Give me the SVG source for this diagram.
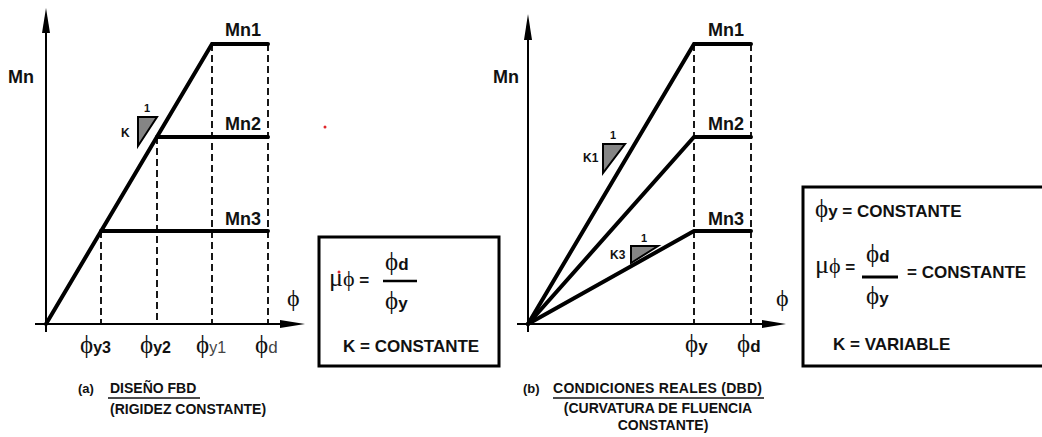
<svg xmlns="http://www.w3.org/2000/svg" width="1042" height="437" viewBox="0 0 1042 437">
<style>
.b{font-family:"Liberation Sans",Arial,sans-serif;font-weight:bold;fill:#111}
.r{font-family:"Liberation Sans",Arial,sans-serif;font-weight:normal;fill:#444}
.sym{font-family:"Liberation Serif","DejaVu Serif",serif;font-weight:normal;fill:#111}
.mn{font-size:18px}
.axis{stroke:#000;stroke-width:2;fill:none}
.thick{stroke:#000;stroke-width:4;fill:none;stroke-linecap:round}
.dash{stroke:#000;stroke-width:1.8;fill:none;stroke-dasharray:7 4}
.tri{fill:#858585;stroke:#000;stroke-width:2}
.box{fill:none;stroke:#000;stroke-width:3}
.head{fill:#000}
</style>
<rect width="1042" height="437" fill="#fff"/>

<g id="connectors">
  <line class="axis" x1="46" y1="30" x2="46" y2="332"/>
  <polygon class="head" points="46,8 42,33 50,33"/>
  <line class="axis" x1="35" y1="324" x2="282" y2="324"/>
  <polygon class="head" points="305,324 280,320 280,328"/>
  <line class="dash" x1="101" y1="231" x2="101" y2="324"/>
  <line class="dash" x1="157" y1="137" x2="157" y2="324"/>
  <line class="dash" x1="212" y1="44" x2="212" y2="324"/>
  <line class="dash" x1="268" y1="44" x2="268" y2="324"/>
  <polyline class="thick" points="46,324 212,44 268,44"/>
  <line class="thick" x1="157" y1="137" x2="268" y2="137"/>
  <line class="thick" x1="101" y1="231" x2="268" y2="231"/>

  <line class="axis" x1="528" y1="36" x2="528" y2="332"/>
  <polygon class="head" points="528,14 524,40 532,40"/>
  <line class="axis" x1="517" y1="324" x2="765" y2="324"/>
  <polygon class="head" points="786,324 762,320 762,328"/>
  <line class="dash" x1="694" y1="44" x2="694" y2="324"/>
  <line class="dash" x1="751" y1="44" x2="751" y2="324"/>
  <polyline class="thick" points="528,324 694,44 751,44"/>
  <polyline class="thick" points="528,324 694,137 751,137"/>
  <polyline class="thick" points="528,324 694,231 751,231"/>
</g>

<g id="left-graph">
  <text class="b mn" x="8" y="83">Mn</text>
  <text class="b mn" x="225" y="36">Mn1</text>
  <text class="b mn" x="225" y="130">Mn2</text>
  <text class="b mn" x="225" y="225">Mn3</text>
  <polygon class="tri" points="138,117 157,117 138,146"/>
  <text class="b" x="147" y="112" font-size="11" text-anchor="middle">1</text>
  <text class="b" x="121" y="137" font-size="12">K</text>
  <text class="sym" x="287" y="306" font-size="24">ϕ</text>
  <text x="80" y="353"><tspan class="sym" font-size="25">ϕ</tspan><tspan class="b" font-size="16">y3</tspan></text>
  <text x="140" y="353"><tspan class="sym" font-size="25">ϕ</tspan><tspan class="b" font-size="16">y2</tspan></text>
  <text x="196" y="353"><tspan class="sym" font-size="25">ϕ</tspan><tspan class="r" font-size="16">y1</tspan></text>
  <text x="255" y="353"><tspan class="sym" font-size="25">ϕ</tspan><tspan class="r" font-size="17" fill="#111">d</tspan></text>
  <circle cx="325" cy="127" r="1.5" fill="#e0262a"/>
</g>

<g id="caption-a">
  <text class="b" x="78" y="393" font-size="13">(a)</text>
  <text class="b" x="110" y="393" font-size="14">DISEÑO FBD</text>
  <line x1="108" y1="398" x2="200" y2="398" stroke="#111" stroke-width="1.5"/>
  <text class="b" x="110" y="414" font-size="14">(RIGIDEZ CONSTANTE)</text>
</g>

<g id="box-a">
  <rect class="box" x="319" y="237" width="180" height="129"/>
  <text x="329" y="286"><tspan class="sym" font-size="26">μ</tspan><tspan class="sym" font-size="22">ϕ</tspan><tspan class="b" font-size="17"> =</tspan></text>
  <circle cx="339" cy="272" r="1.5" fill="#e0262a"/>
  <text x="385" y="270"><tspan class="sym" font-size="25">ϕ</tspan><tspan class="b" font-size="17">d</tspan></text>
  <line x1="383" y1="281" x2="417" y2="281" stroke="#000" stroke-width="2.5"/>
  <text x="385" y="309"><tspan class="sym" font-size="25">ϕ</tspan><tspan class="b" font-size="17">y</tspan></text>
  <text class="b" x="343" y="352" font-size="17">K = CONSTANTE</text>
</g>

<g id="right-graph">
  <text class="b mn" x="493" y="83">Mn</text>
  <text class="b mn" x="708" y="36">Mn1</text>
  <text class="b mn" x="708" y="130">Mn2</text>
  <text class="b mn" x="708" y="225">Mn3</text>
  <polygon class="tri" points="603,144 625,144 603,173"/>
  <text class="b" x="613" y="139" font-size="11" text-anchor="middle">1</text>
  <text class="b" x="583" y="162" font-size="12">K1</text>
  <polygon class="tri" points="631,246 658,246 631,263"/>
  <text class="b" x="644" y="242" font-size="11" text-anchor="middle">1</text>
  <text class="b" x="610" y="259" font-size="12">K3</text>
  <text class="sym" x="776" y="306" font-size="24">ϕ</text>
  <text x="685" y="352"><tspan class="sym" font-size="25">ϕ</tspan><tspan class="b" font-size="17">y</tspan></text>
  <text x="737" y="352"><tspan class="sym" font-size="25">ϕ</tspan><tspan class="b" font-size="17">d</tspan></text>
</g>

<g id="caption-b">
  <text class="b" x="523" y="393" font-size="13">(b)</text>
  <text class="b" x="553" y="393" font-size="14" textLength="209">CONDICIONES REALES (DBD)</text>
  <line x1="553" y1="398" x2="764" y2="398" stroke="#111" stroke-width="1.5"/>
  <text class="b" x="658" y="413" font-size="14" text-anchor="middle">(CURVATURA DE FLUENCIA</text>
  <text class="b" x="663" y="430" font-size="14" text-anchor="middle">CONSTANTE)</text>
</g>

<g id="box-b">
  <path class="box" d="M1045,187 H803 V366 H1045"/>
  <text x="815" y="217"><tspan class="sym" font-size="25">ϕ</tspan><tspan class="b" font-size="17">y = CONSTANTE</tspan></text>
  <text x="815" y="273"><tspan class="sym" font-size="26">μ</tspan><tspan class="sym" font-size="22">ϕ</tspan><tspan class="b" font-size="17"> =</tspan></text>
  <text x="866" y="262"><tspan class="sym" font-size="25">ϕ</tspan><tspan class="b" font-size="17">d</tspan></text>
  <line x1="862" y1="277" x2="898" y2="277" stroke="#000" stroke-width="3"/>
  <text x="866" y="304"><tspan class="sym" font-size="25">ϕ</tspan><tspan class="b" font-size="17">y</tspan></text>
  <text class="b" x="907" y="278" font-size="17">= CONSTANTE</text>
  <text class="b" x="833" y="350" font-size="17">K = VARIABLE</text>
</g>
</svg>
